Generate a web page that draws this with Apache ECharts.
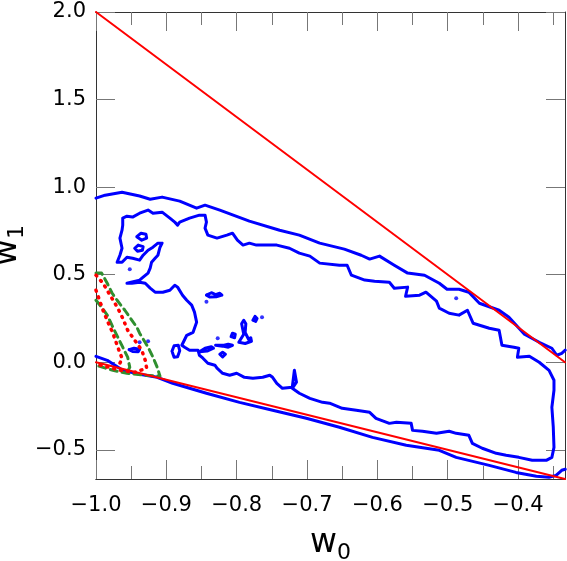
<!DOCTYPE html>
<html>
<head>
<meta charset="utf-8">
<script src="https://cdn.jsdelivr.net/npm/echarts@6.0.0/dist/echarts.min.js"></script>
<style>
html,body{margin:0;padding:0;background:#fff;}
#main{width:567px;height:561px;}
</style>
</head>
<body>
<div id="main"></div>
<script>
// tick values
var xMajor = [-1.0, -0.9, -0.8, -0.7, -0.6, -0.5, -0.4];
var xMinor = [-0.95, -0.85, -0.75, -0.65, -0.55, -0.45, -0.35];
var yMajor = [-0.5, 0.0, 0.5, 1.0, 1.5, 2.0];

// straight boundaries (red)
var lineUpper = [[-1, 2], [-1 / 3, 0]];
var lineLower = [[-1, 0], [-1 / 3, -2 / 3]];

// outer blue contour, upper branch
var outerUpper = [[-1.0,0.937],[-0.987,0.954],[-0.963,0.971],[-0.938,0.949],[-0.923,0.931],[-0.906,0.943],
[-0.881,0.920],[-0.857,0.880],[-0.845,0.897],[-0.824,0.869],[-0.782,0.806],[-0.739,0.754],[-0.711,0.726],
[-0.682,0.680],[-0.647,0.646],[-0.623,0.611],[-0.611,0.589],[-0.597,0.606],[-0.576,0.554],[-0.557,0.509],
[-0.533,0.497],[-0.512,0.451],[-0.501,0.417],[-0.484,0.417],[-0.470,0.400],[-0.455,0.337],[-0.427,0.297],
[-0.413,0.257],[-0.391,0.160],[-0.370,0.114],[-0.352,0.080],[-0.345,0.040],[-0.338,0.051],[-0.333,0.069]];

// outer blue contour, lower branch
var outerLower = [[-1.0,0.034],[-0.984,0.011],[-0.962,-0.046],[-0.938,-0.069],[-0.913,-0.086],[-0.891,-0.120],
[-0.843,-0.177],[-0.796,-0.229],[-0.749,-0.274],[-0.701,-0.320],[-0.654,-0.371],[-0.607,-0.429],[-0.559,-0.474],
[-0.512,-0.503],[-0.488,-0.543],[-0.441,-0.589],[-0.403,-0.629],[-0.374,-0.651],[-0.356,-0.657],[-0.346,-0.646],
[-0.338,-0.617],[-0.333,-0.611]];

// inner blue contour (closed)
var inner = [[-0.962,0.823],[-0.956,0.834],[-0.948,0.829],[-0.938,0.851],[-0.926,0.869],[-0.919,0.851],[-0.906,0.857],
[-0.895,0.823],[-0.888,0.800],[-0.884,0.783],[-0.881,0.800],[-0.867,0.823],[-0.853,0.840],[-0.845,0.840],[-0.843,0.800],
[-0.845,0.766],[-0.841,0.726],[-0.828,0.709],[-0.814,0.726],[-0.806,0.737],[-0.799,0.697],[-0.791,0.669],[-0.782,0.680],
[-0.772,0.669],[-0.763,0.669],[-0.743,0.669],[-0.725,0.651],[-0.711,0.623],[-0.696,0.606],[-0.682,0.566],[-0.654,0.554],
[-0.643,0.554],[-0.637,0.497],[-0.618,0.469],[-0.604,0.463],[-0.583,0.457],[-0.576,0.423],[-0.557,0.429],[-0.560,0.377],
[-0.540,0.383],[-0.531,0.400],[-0.516,0.349],[-0.512,0.309],[-0.498,0.280],[-0.484,0.269],[-0.472,0.297],[-0.464,0.223],
[-0.441,0.194],[-0.427,0.183],[-0.423,0.097],[-0.406,0.086],[-0.399,0.080],[-0.401,0.029],[-0.384,0.034],[-0.370,0.000],
[-0.356,-0.046],[-0.349,-0.103],[-0.349,-0.160],[-0.352,-0.257],[-0.350,-0.371],[-0.349,-0.486],[-0.352,-0.543],
[-0.360,-0.560],[-0.380,-0.560],[-0.399,-0.543],[-0.417,-0.531],[-0.431,-0.520],[-0.451,-0.491],[-0.465,-0.463],
[-0.470,-0.417],[-0.488,-0.406],[-0.498,-0.394],[-0.516,-0.406],[-0.536,-0.394],[-0.550,-0.389],[-0.552,-0.349],
[-0.573,-0.343],[-0.583,-0.349],[-0.602,-0.320],[-0.611,-0.286],[-0.630,-0.274],[-0.650,-0.263],[-0.668,-0.234],
[-0.678,-0.229],[-0.696,-0.206],[-0.711,-0.177],[-0.721,-0.149],[-0.715,-0.114],[-0.718,-0.046],[-0.721,-0.143],
[-0.735,-0.149],[-0.743,-0.120],[-0.749,-0.086],[-0.753,-0.074],[-0.763,-0.086],[-0.777,-0.091],[-0.789,-0.086],
[-0.800,-0.063],[-0.810,-0.074],[-0.820,-0.063],[-0.828,-0.034],[-0.831,-0.017],[-0.841,-0.006],[-0.848,0.023],
[-0.853,0.040],[-0.855,0.069],[-0.867,0.069],[-0.874,0.086],[-0.878,0.097],[-0.871,0.154],[-0.862,0.171],[-0.857,0.229],
[-0.860,0.286],[-0.864,0.326],[-0.871,0.354],[-0.877,0.383],[-0.884,0.429],[-0.888,0.440],[-0.895,0.411],[-0.905,0.400],
[-0.916,0.400],[-0.923,0.423],[-0.930,0.451],[-0.938,0.457],[-0.949,0.451],[-0.956,0.451],[-0.938,0.469],[-0.933,0.486],
[-0.926,0.509],[-0.923,0.537],[-0.921,0.571],[-0.916,0.594],[-0.912,0.611],[-0.909,0.657],[-0.906,0.680],[-0.912,0.680],
[-0.919,0.657],[-0.926,0.640],[-0.933,0.611],[-0.938,0.583],[-0.948,0.594],[-0.956,0.600],[-0.963,0.571],[-0.970,0.571],
[-0.966,0.611],[-0.963,0.651],[-0.966,0.709],[-0.963,0.754],[-0.962,0.783],[-0.962,0.823]];

// small blue islands
var islands = [
[[-0.942,0.717],[-0.936,0.737],[-0.929,0.731],[-0.928,0.709],[-0.935,0.697],[-0.942,0.717]],
[[-0.945,0.651],[-0.940,0.669],[-0.933,0.660],[-0.934,0.640],[-0.941,0.634],[-0.945,0.651]],
[[-0.843,0.383],[-0.836,0.397],[-0.830,0.386],[-0.824,0.394],[-0.821,0.383],[-0.829,0.374],[-0.838,0.372],[-0.843,0.383]],
[[-0.892,0.063],[-0.889,0.094],[-0.883,0.097],[-0.881,0.066],[-0.884,0.031],[-0.889,0.029],[-0.892,0.063]],
[[-0.853,0.060],[-0.845,0.080],[-0.836,0.089],[-0.833,0.080],[-0.842,0.064],[-0.853,0.060]],
[[-0.830,0.097],[-0.818,0.097],[-0.812,0.103],[-0.806,0.097],[-0.812,0.086],[-0.820,0.092],[-0.830,0.097]],
[[-0.824,0.046],[-0.820,0.057],[-0.816,0.046],[-0.820,0.030],[-0.824,0.046]],
[[-0.808,0.146],[-0.806,0.166],[-0.802,0.160],[-0.803,0.140],[-0.808,0.146]],
[[-0.793,0.220],[-0.790,0.240],[-0.787,0.220],[-0.788,0.170],[-0.783,0.130],[-0.780,0.140],[-0.779,0.120],[-0.788,0.107],[-0.797,0.114],[-0.790,0.160],[-0.793,0.220]],
[[-0.777,0.240],[-0.774,0.262],[-0.771,0.250],[-0.773,0.233],[-0.777,0.240]],
[[-0.953,0.072],[-0.946,0.080],[-0.938,0.074],[-0.940,0.060],[-0.948,0.062],[-0.953,0.072]]
];
var blueDots = [[-0.843,0.345],[-0.827,0.137],[-0.764,0.257],[-0.488,0.366],[-0.938,0.114],[-0.926,0.120],[-0.952,0.531]];

// green dashed contours
var greenOuter = [[-1.0,0.509],[-0.992,0.509],[-0.984,0.451],[-0.977,0.394],[-0.970,0.354],[-0.959,0.297],[-0.952,0.257],
[-0.942,0.200],[-0.938,0.166],[-0.926,0.086],[-0.919,0.029],[-0.913,-0.029],[-0.909,-0.080],[-0.930,-0.074],
[-0.956,-0.063],[-0.976,-0.046],[-1.0,-0.017]];
var greenInner = [[-1.0,0.354],[-0.992,0.314],[-0.984,0.269],[-0.976,0.200],[-0.969,0.143],[-0.962,0.086],
[-0.955,0.029],[-0.952,-0.029],[-0.956,-0.057]];

// red dotted contours
var redOuter = [[-1.0,0.497],[-0.990,0.451],[-0.980,0.383],[-0.969,0.309],[-0.962,0.251],[-0.955,0.183],[-0.945,0.126],
[-0.935,0.069],[-0.930,0.011],[-0.928,-0.034],[-0.945,-0.057],[-0.966,-0.046],[-0.987,-0.023],[-1.0,-0.011]];
var redInner = [[-1.0,0.411],[-0.990,0.297],[-0.983,0.229],[-0.976,0.166],[-0.969,0.086],[-0.963,0.023],[-0.969,-0.034]];

var FONT = '"DejaVu Sans", Verdana, sans-serif';
var BLUE = '#0000ff';

function fmt(v) {
    return v.toFixed(1).replace('-', '\u2212');
}

// w with a lowered subscript
var nameRich = {
    a: {fontSize: 33, fontFamily: FONT, color: '#000', padding: [0, 0, 10, 0]},
    b: {fontSize: 22, fontFamily: FONT, color: '#000', padding: [10, 0, 0, 0]}
};

function xAx(pos, ticks, len, main) {
    return {
        type: 'value', position: pos, min: -1, max: -1 / 3,
        axisLine: {show: true, onZero: false, lineStyle: {color: '#333', width: 1}},
        axisTick: {show: true, inside: true, length: len, customValues: ticks, lineStyle: {color: '#777', width: 1}},
        axisLabel: main ? {show: true, customValues: xMajor, formatter: fmt, fontSize: 21, color: '#000', fontFamily: FONT, margin: 16} : {show: false},
        splitLine: {show: false},
        name: main ? '{a|w}{b|0}' : '',
        nameLocation: 'middle', nameGap: 48, nameMoveOverlap: false,
        nameTextStyle: {rich: nameRich}
    };
}

function yAx(pos, main) {
    return {
        type: 'value', position: pos, min: -2 / 3, max: 2,
        axisLine: {show: true, onZero: false, lineStyle: {color: '#333', width: 1}},
        axisTick: {show: true, inside: true, length: 19, customValues: yMajor, lineStyle: {color: '#777', width: 1}},
        axisLabel: main ? {show: true, customValues: yMajor, formatter: fmt, fontSize: 21, color: '#000', fontFamily: FONT, margin: 10} : {show: false},
        splitLine: {show: false},
        name: main ? '{a|w}{b|1}' : '',
        nameLocation: 'middle', nameGap: 62, nameRotate: 90, nameMoveOverlap: false,
        nameTextStyle: {rich: nameRich}
    };
}

function contour(data, color, type, width) {
    return {
        type: 'line', data: data, symbol: 'none', smooth: false, silent: true, clip: true,
        lineStyle: {color: color, width: width, type: type, cap: 'round', join: 'round'}
    };
}

var series = [];
series.push(contour(outerUpper, BLUE, 'solid', 3));
series.push(contour(outerLower, BLUE, 'solid', 3));
series.push(contour(inner, BLUE, 'solid', 3));
islands.forEach(function (d) { series.push(contour(d, BLUE, 'solid', 3)); });
series.push({type: 'scatter', data: blueDots, symbolSize: 4, itemStyle: {color: BLUE}, silent: true});
series.push(contour(greenOuter, '#2f8f2f', [7, 5], 3));
series.push(contour(greenInner, '#2f8f2f', [7, 5], 3));
series.push(contour(redOuter, '#ff0000', [1, 6], 3.5));
series.push(contour(redInner, '#ff0000', [1, 6], 3.5));
series.push(contour(lineUpper, '#ff0000', 'solid', 2));
series.push(contour(lineLower, '#ff0000', 'solid', 2));

var chart = echarts.init(document.getElementById('main'));
chart.setOption({
    animation: false,
    backgroundColor: '#fff',
    grid: {left: 96, right: 2, top: 12, bottom: 82, containLabel: false, outerBoundsMode: 'none'},
    xAxis: [xAx('bottom', xMajor, 19, true), xAx('bottom', xMinor, 13, false), xAx('top', xMajor, 19, false), xAx('top', xMinor, 13, false)],
    yAxis: [yAx('left', true), yAx('right', false)],
    series: series
});
</script>
</body>
</html>
